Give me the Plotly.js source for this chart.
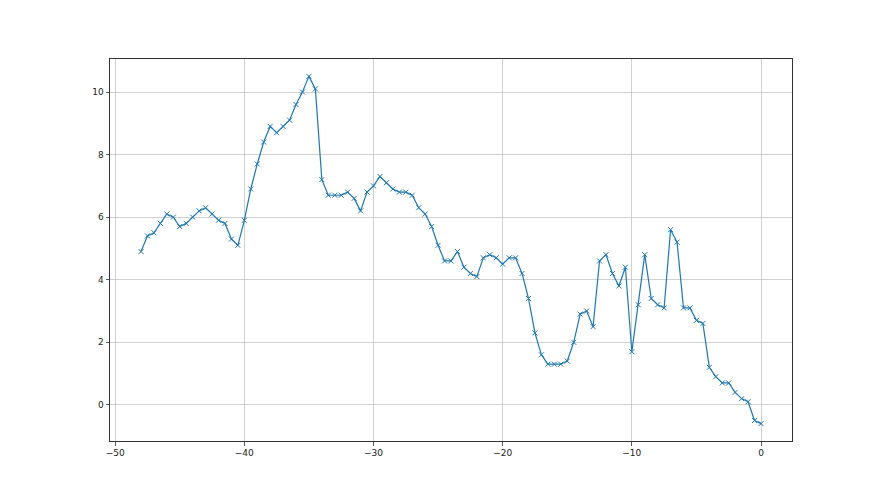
<!DOCTYPE html>
<html>
<head>
<meta charset="utf-8">
<script src="https://cdn.plot.ly/plotly-3.0.1.min.js"></script>
<style>html,body{margin:0;padding:0;background:#fff;}#chart{width:880px;height:495px;}</style>
</head>
<body>
<div id="chart"></div>
<script>
const xValues = [-48,-47.5,-47,-46.5,-46,-45.5,-45,-44.5,-44,-43.5,-43,-42.5,-42,-41.5,-41,-40.5,-40,-39.5,-39,-38.5,-38,-37.5,-37,-36.5,-36,-35.5,-35,-34.5,-34,-33.5,-33,-32.5,-32,-31.5,-31,-30.5,-30,-29.5,-29,-28.5,-28,-27.5,-27,-26.5,-26,-25.5,-25,-24.5,-24,-23.5,-23,-22.5,-22,-21.5,-21,-20.5,-20,-19.5,-19,-18.5,-18,-17.5,-17,-16.5,-16,-15.5,-15,-14.5,-14,-13.5,-13,-12.5,-12,-11.5,-11,-10.5,-10,-9.5,-9,-8.5,-8,-7.5,-7,-6.5,-6,-5.5,-5,-4.5,-4,-3.5,-3,-2.5,-2,-1.5,-1,-0.5,0];
const yValues = [4.9,5.4,5.5,5.8,6.1,6.0,5.7,5.8,6.0,6.2,6.3,6.1,5.9,5.8,5.3,5.1,5.9,6.9,7.7,8.4,8.9,8.7,8.9,9.1,9.6,10.0,10.5,10.1,7.2,6.7,6.7,6.7,6.8,6.6,6.2,6.8,7.0,7.3,7.1,6.9,6.8,6.8,6.7,6.3,6.1,5.7,5.1,4.6,4.6,4.9,4.4,4.2,4.1,4.7,4.8,4.7,4.5,4.7,4.7,4.2,3.4,2.3,1.6,1.3,1.3,1.3,1.4,2.0,2.9,3.0,2.5,4.6,4.8,4.2,3.8,4.4,1.7,3.2,4.8,3.4,3.2,3.1,5.6,5.2,3.1,3.1,2.7,2.6,1.2,0.9,0.7,0.7,0.4,0.2,0.1,-0.5,-0.6];
const xTicks = [-50,-40,-30,-20,-10,0];
const yTicks = [0,2,4,6,8,10];

const trace = {
  x: xValues, y: yValues, type: 'scatter', mode: 'lines+markers',
  line: {color: '#1f77b4', width: 1.2},
  marker: {symbol: 'x-thin-open', size: 5, color: '#1f77b4', line: {color: '#1f77b4', width: 1}},
  hoverinfo: 'x+y'
};
const axisCommon = {
  showline: true, mirror: true, linecolor: '#333', linewidth: 1,
  ticks: 'outside', ticklen: 3.5, tickwidth: 0.8, tickcolor: '#333',
  showgrid: true, gridcolor: '#c4c4c4', gridwidth: 0.8, zeroline: false,
  tickfont: {family: 'DejaVu Sans', size: 9, color: '#222'}, tickmode: 'array'
};
const layout = {
  width: 880, height: 495,
  margin: {l: 110, r: 88, t: 59, b: 54},
  paper_bgcolor: '#fff', plot_bgcolor: '#fff',
  showlegend: false,
  xaxis: Object.assign({}, axisCommon, {range: [-50.4, 2.4], tickvals: xTicks}),
  yaxis: Object.assign({}, axisCommon, {range: [-1.155, 11.055], tickvals: yTicks})
};
Plotly.newPlot('chart', [trace], layout, {displayModeBar: false, staticPlot: true});
</script>
</body>
</html>
